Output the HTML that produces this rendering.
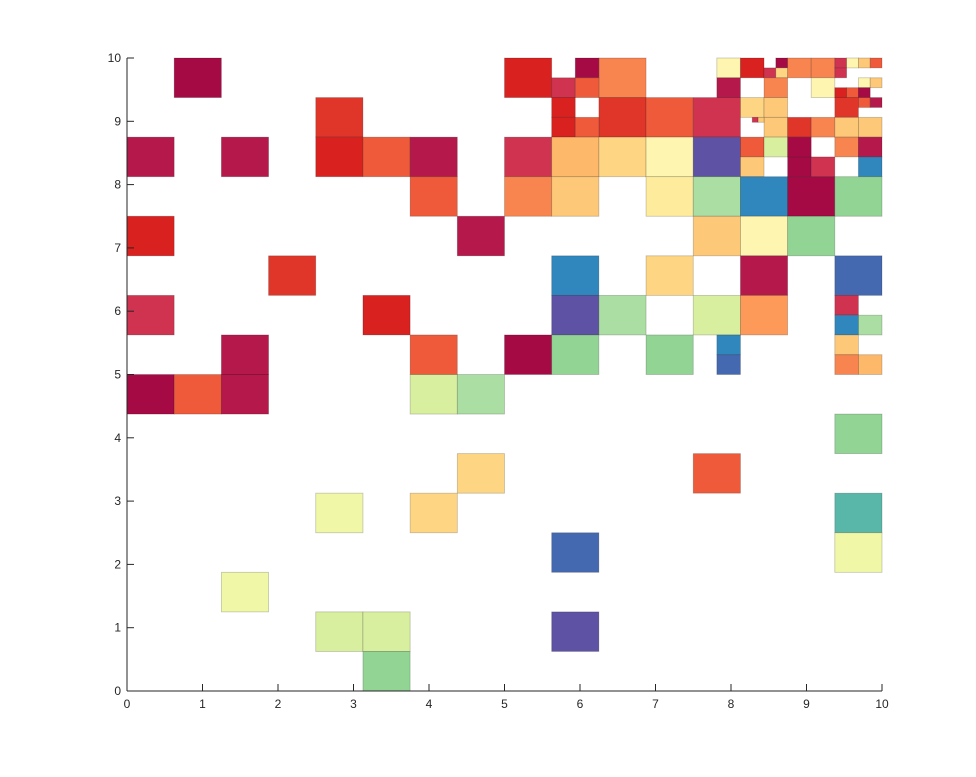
<!DOCTYPE html>
<html><head><meta charset="utf-8"><style>
body{margin:0;background:#fff;}
svg{display:block;font-family:"Liberation Sans",sans-serif;}
</style></head><body>
<svg id="chart" width="976" height="777" viewBox="0 0 976 777" xmlns="http://www.w3.org/2000/svg"></svg>
<script>
// tick labels
const xTicks = [0,1,2,3,4,5,6,7,8,9,10];
const yTicks = [0,1,2,3,4,5,6,7,8,9,10];
// palette
const palette = {A:'#a50a45',B:'#b5194b',C:'#cf3350',R:'#d92120',R2:'#e0362a',O1:'#ee5a3a',O:'#f8844f',O3:'#fd9a5a',LO:'#fdb869',LO2:'#fdc877',LY:'#fed683',PY:'#fef6b0',PY2:'#feec9c',PYG:'#f0f8a8',YG:'#d9efa0',LG:'#aadea2',G:'#92d494',TE:'#59b7a9',BL:'#2f87bd',DB:'#4469b0',P:'#5d52a3'};
// cells: x, y (data units, lower-left), size (data units) and colour key
const U = 0.15625;
const cellX = [], cellY = [], cellS = [], cellK = [];
function big(c,r,k){cellX.push(4*c*U);cellY.push(4*r*U);cellS.push(4*U);cellK.push(k);}
function sub(fx,fy,s,k){cellX.push(fx*U);cellY.push(fy*U);cellS.push(s*U);cellK.push(k);}
// row 15
big(1,15,'A');big(8,15,'R');big(10,15,'O');
sub(38,62,2,'A');sub(36,60,2,'C');sub(38,60,2,'O1');
sub(50,62,2,'PY');sub(50,60,2,'B');
sub(52,62,2,'R');sub(55,63,1,'A');sub(54,62,1,'C');sub(55,62,1,'LY');sub(54,60,2,'O');
sub(56,62,2,'O');sub(58,62,2,'O');sub(58,60,2,'PY');
sub(60,63,1,'C');sub(61,63,1,'PY');sub(62,63,1,'LO2');sub(63,63,1,'O1');sub(60,62,1,'C');
sub(62,61,1,'PY');sub(63,61,1,'LO2');sub(60,60,1,'R');sub(61,60,1,'O1');sub(62,60,1,'A');
// row 14
big(4,14,'R2');big(10,14,'R2');big(11,14,'O1');big(12,14,'C');
sub(36,58,2,'R');sub(36,56,2,'R');sub(38,56,2,'O1');
sub(52,58,2,'LY');sub(54,58,2,'LO2');sub(54,56,2,'LO2');sub(53,57.5,0.5,'C');sub(53.5,57.5,0.5,'LO2');
sub(56,56,2,'R2');sub(58,56,2,'O');
sub(60,58,2,'R2');sub(62,59,1,'O1');sub(63,59,1,'B');sub(60,56,2,'LO2');sub(62,56,2,'LO2');
// row 13
big(0,13,'B');big(2,13,'B');big(4,13,'R');big(5,13,'O1');big(6,13,'B');big(8,13,'C');big(9,13,'LO');big(10,13,'LY');big(11,13,'PY');big(12,13,'P');
sub(52,54,2,'O1');sub(54,54,2,'YG');sub(52,52,2,'LO2');
sub(56,54,2,'A');sub(56,52,2,'A');sub(58,52,2,'C');
sub(60,54,2,'O');sub(62,54,2,'B');sub(62,52,2,'BL');
// row 12
big(6,12,'O1');big(8,12,'O');big(9,12,'LO2');big(11,12,'PY2');big(12,12,'LG');big(13,12,'BL');big(14,12,'A');big(15,12,'G');
// row 11
big(0,11,'R');big(7,11,'B');big(12,11,'LO2');big(13,11,'PY');big(14,11,'G');
// row 10
big(3,10,'R2');big(9,10,'BL');big(11,10,'LY');big(13,10,'B');big(15,10,'DB');
// row 9
big(0,9,'C');big(5,9,'R');big(9,9,'P');big(10,9,'LG');big(12,9,'YG');big(13,9,'O3');
sub(60,38,2,'C');sub(60,36,2,'BL');sub(62,36,2,'LG');
// row 8
big(2,8,'B');big(6,8,'O1');big(8,8,'A');big(9,8,'G');big(11,8,'G');
sub(50,34,2,'BL');sub(50,32,2,'DB');
sub(60,34,2,'LO2');sub(60,32,2,'O');sub(62,32,2,'LO');
// row 7
big(0,7,'A');big(1,7,'O1');big(2,7,'B');big(6,7,'YG');big(7,7,'LG');
// rows 6..0
big(15,6,'G');
big(7,5,'LY');big(12,5,'O1');
big(4,4,'PYG');big(6,4,'LY');big(15,4,'TE');
big(9,3,'DB');big(15,3,'PYG');
big(2,2,'PYG');
big(4,1,'YG');big(5,1,'YG');big(9,1,'P');
big(5,0,'G');

const L=127,R=882,T=58,B=691;
const sx=v=>L+(R-L)*v/10, sy=v=>B-(B-T)*v/10;
const svg=document.getElementById('chart');
const NS='http://www.w3.org/2000/svg';
function mk(t,a){const e=document.createElementNS(NS,t);for(const k in a)e.setAttribute(k,a[k]);svg.appendChild(e);return e;}
for(let i=0;i<cellX.length;i++){
  const x0=sx(cellX[i]),x1=sx(cellX[i]+cellS[i]),y0=sy(cellY[i]+cellS[i]),y1=sy(cellY[i]);
  const r=mk('rect',{x:x0,y:y0,width:x1-x0,height:y1-y0,fill:palette[cellK[i]],stroke:'rgba(0,0,0,0.22)','stroke-width':0.8});
  
  
}
const ax=mk('line',{x1:L,y1:B,x2:R,y2:B,stroke:'#262626','stroke-width':1});

const ay=mk('line',{x1:L,y1:T,x2:L,y2:B,stroke:'#262626','stroke-width':1});

xTicks.forEach(v=>{
  const x=sx(v);
  const tk=mk('line',{x1:x,y1:B,x2:x,y2:B-7,stroke:'#262626'});
  
  const t=mk('text',{x:x,y:B+17,'text-anchor':'middle','font-size':12,fill:'#262626'});
  t.textContent=v;
  
});
yTicks.forEach(v=>{
  const y=sy(v);
  const tk=mk('line',{x1:L,y1:y,x2:L+7,y2:y,stroke:'#262626'});
  
  const t=mk('text',{x:L-6,y:y+4,'text-anchor':'end','font-size':12,fill:'#262626'});
  t.textContent=v;
  
});
</script>
</body></html>
